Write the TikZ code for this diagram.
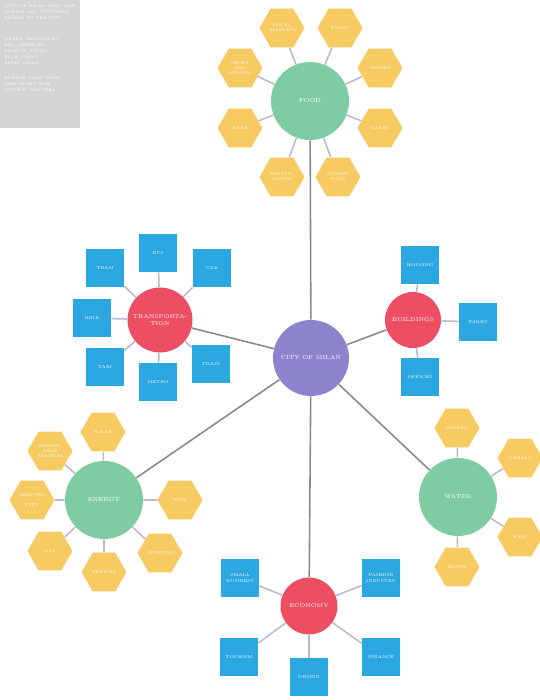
\documentclass[tikz,border=0pt]{standalone}
\usetikzlibrary{shapes.geometric}

\definecolor{hubpurple}{HTML}{8C84CF}
\definecolor{topicgreen}{HTML}{7FCCA2}
\definecolor{topicred}{HTML}{EE4E62}
\definecolor{itemblue}{HTML}{2BA7E1}
\definecolor{itemyellow}{HTML}{F7CB62}
\definecolor{legendgray}{HTML}{D4D4D4}
\definecolor{mainline}{HTML}{8A8A8A}
\definecolor{spokeline}{HTML}{BDB8D2}

\tikzstyle{hub} = [circle, minimum size=1.52cm, inner sep=0pt, fill=hubpurple, text=white, text centered, font=\fontsize{3.2}{3.6}\selectfont]
\tikzstyle{green} = [circle, minimum size=1.56cm, inner sep=0pt, fill=topicgreen, text=white, text centered, font=\fontsize{3.2}{3.6}\selectfont]
\tikzstyle{red} = [circle, minimum size=1.2cm, inner sep=0pt, fill=topicred, text=white, align=center, font=\fontsize{3.2}{3.6}\selectfont]
\tikzstyle{hexa} = [regular polygon, regular polygon sides=6, minimum size=0.9cm, inner sep=0pt, text width=0.5cm, fill=itemyellow, text=white, align=center, font=\fontsize{2.3}{2.8}\selectfont]
\tikzstyle{square} = [rectangle, minimum size=0.76cm, inner sep=0pt, fill=itemblue, text=white, align=center, font=\fontsize{2.4}{2.9}\selectfont]
\tikzstyle{main} = [draw=mainline, line width=0.9pt]
\tikzstyle{spoke} = [draw=spokeline, line width=0.9pt]

\begin{document}
\begin{tikzpicture}[x=0.02cm, y=-0.02cm]

    \useasboundingbox (0,0) rectangle (539,700);

    % Legend
    \node[rectangle, fill=legendgray, minimum width=1.6cm, minimum height=2.56cm, inner sep=0pt] (legend) at (40,64) {};
    \node[text=white, align=left, anchor=north west, inner sep=0pt, font=\fontsize{2.2}{3.4}\selectfont] (legendtext) at (4,4)
      {CITY OF MILAN MIND MAP\\TOPICS AND SUBTOPICS\\LINKED TO THE CITY\\[9pt]
       GREEN: RESOURCES\\RED: SERVICES\\YELLOW: ITEMS\\BLUE: ITEMS\\LINES: LINKS\\[5pt]
       PURPLE: MAIN TOPIC\\SIZE SHOWS HOW\\MUCH IT MATTERS};

    % Nodes
    \node[hub] (city) at (311,358) {CITY OF MILAN};

    \node[green] (food) at (310,101) {FOOD};
    \node[hexa] (f1) at (282,28) {LOCAL\\MARKETS};
    \node[hexa] (f2) at (340,28) {FARMS};
    \node[hexa] (f3) at (240,68) {SHOPS\\AND\\STORES};
    \node[hexa] (f4) at (380,68) {DRINKS};
    \node[hexa] (f5) at (240,128) {BARS};
    \node[hexa] (f6) at (380,128) {CAFES};
    \node[hexa] (f7) at (282,177) {RESTAU-\\RANTS};
    \node[hexa] (f8) at (338,177) {STREET\\FOOD};

    \node[red, minimum size=1.3cm] (transport) at (160,320) {TRANSPORTA-\\TION};
    \node[square] (t1) at (158,253) {BUS};
    \node[square] (t2) at (105,268) {TRAM};
    \node[square] (t3) at (212,268) {CAR};
    \node[square] (t4) at (92,318) {BIKE};
    \node[square] (t5) at (105,367) {TAXI};
    \node[square] (t6) at (158,382) {METRO};
    \node[square] (t7) at (211,364) {TRAIN};

    \node[red, minimum size=1.12cm] (build) at (413,320) {BUILDINGS};
    \node[square] (b1) at (420,265) {HOUSING};
    \node[square] (b2) at (478,322) {PARKS};
    \node[square] (b3) at (420,377) {OFFICES};

    \node[green] (energy) at (104,500) {ENERGY};
    \node[hexa] (e1) at (103,432) {SOLAR};
    \node[hexa] (e2) at (50,451) {RENEW-\\ABLE\\SOURCES};
    \node[hexa] (e3) at (32,500) {ELECTRI-\\CITY};
    \node[hexa] (e4) at (50,551) {GAS};
    \node[hexa] (e5) at (104,572) {HEATING};
    \node[hexa] (e6) at (160,553) {LIGHTING};
    \node[hexa] (e7) at (180,500) {WIND};

    \node[green] (water) at (458,497) {WATER};
    \node[hexa] (w1) at (457,428) {RIVERS};
    \node[hexa] (w2) at (520,458) {CANALS};
    \node[hexa] (w3) at (520,537) {RAIN};
    \node[hexa] (w4) at (457,567) {WASTE};

    \node[red, minimum size=1.14cm] (economy) at (309,606) {ECONOMY};
    \node[square] (c1) at (240,578) {SMALL\\BUSINESS};
    \node[square] (c2) at (381,578) {FASHION\\INDUSTRY};
    \node[square] (c3) at (239,657) {TOURISM};
    \node[square] (c4) at (381,657) {FINANCE};
    \node[square] (c5) at (309,677) {DESIGN};

    % Lines
    \path[main]
    (city) edge (food)
    (city) edge (transport)
    (city) edge (build)
    (city) edge (energy)
    (city) edge (water)
    (city) edge (economy);

    \path[spoke]
    (food) edge (f1) (food) edge (f2) (food) edge (f3) (food) edge (f4)
    (food) edge (f5) (food) edge (f6) (food) edge (f7) (food) edge (f8)
    (transport) edge (t1) (transport) edge (t2) (transport) edge (t3) (transport) edge (t4)
    (transport) edge (t5) (transport) edge (t6) (transport) edge (t7)
    (build) edge (b1) (build) edge (b2) (build) edge (b3)
    (energy) edge (e1) (energy) edge (e2) (energy) edge (e3) (energy) edge (e4)
    (energy) edge (e5) (energy) edge (e6) (energy) edge (e7)
    (water) edge (w1) (water) edge (w2) (water) edge (w3) (water) edge (w4)
    (economy) edge (c1) (economy) edge (c2) (economy) edge (c3)
    (economy) edge (c4) (economy) edge (c5);

\end{tikzpicture}
\end{document}
